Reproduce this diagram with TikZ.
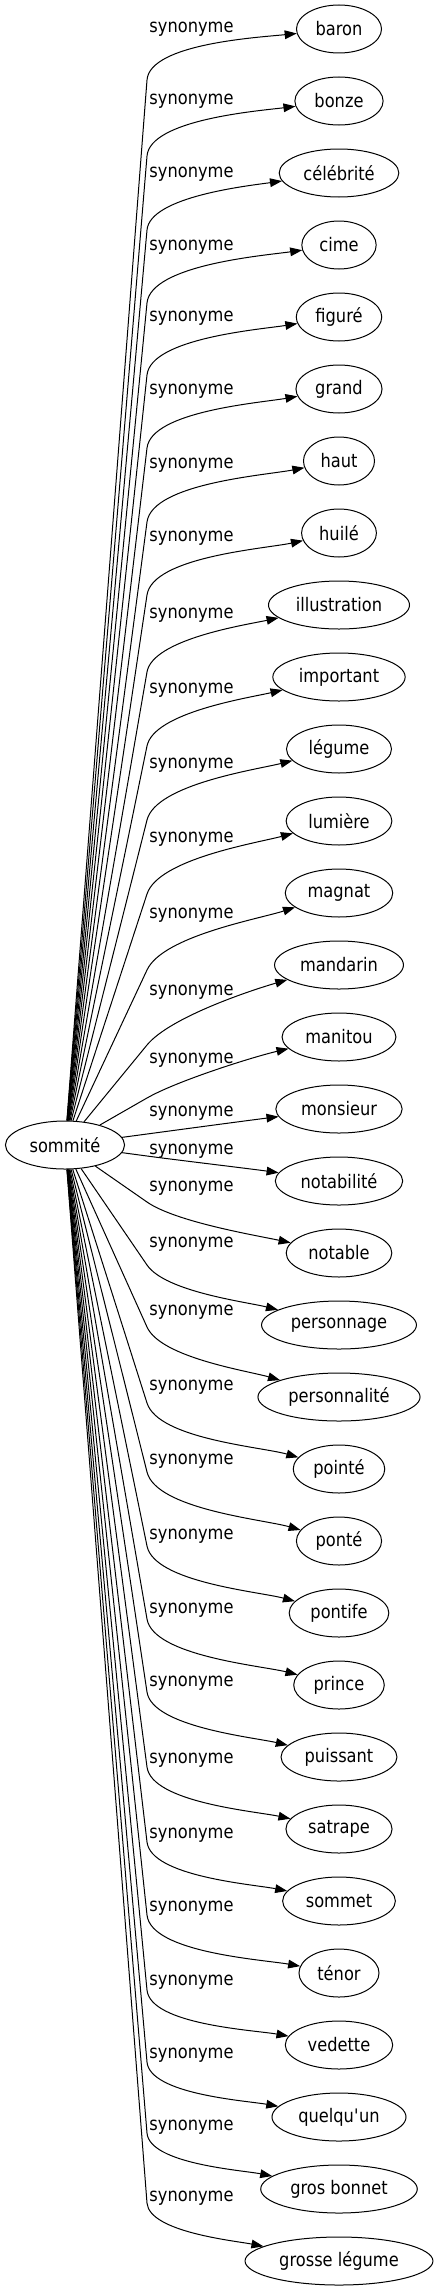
\documentclass[tikz,border=0pt]{standalone}
\usepackage{fontspec}
\setmainfont{DejaVu Sans}[FakeStretch=0.87]
\usetikzlibrary{arrows.meta,shapes.geometric}

\begin{document}
\begin{tikzpicture}[>={Triangle[length=9pt,width=6.5pt]}, line width=0.75pt, x=0.75pt, y=0.75pt,
		font=\fontsize{14}{17}\selectfont,
		mot/.style={draw, ellipse, inner xsep=5pt, inner ysep=2pt, minimum height=36pt}]
	
	\useasboundingbox (0,0) rectangle (435,-2291);
	
	\def\xs{65}
	\def\ys{1145}
	\def\xm{339}
	\def\xl{191.5}
	\def\xq{147}
	
	\node[mot] (sommite) at (\xs,-\ys) {sommité};
	
	% nom / y etiquette / y du coude / angle d'arrivee
	\foreach \i/\nom/\ly/\qy/\arr in {
		0/baron/29/80/186, 1/bonze/101/156/187, 2/célébrité/174/230/188,
		3/cime/247/303/188, 4/figuré/318/375/189, 5/grand/391/448/190,
		6/haut/465/522/191, 7/huilé/538/595/192, 8/illustration/615/672/192,
		9/important/690/746/193, 10/légume/765/820/194, 11/lumière/839/894/195,
		12/magnat/915/970/198, 13/mandarin/992/1045/196, 14/manitou/1060/1098/193,
		15/monsieur/1113/1134/187.5, 16/notabilité/1151/1156/172.5, 17/notable/1188/1202/168,
		18/personnage/1244/1265/166, 19/personnalité/1312/1327/164, 20/pointé/1387/1403/164,
		21/ponté/1461/1472/164, 22/pontife/1536/1546/165, 23/prince/1610/1619/166,
		24/puissant/1683/1692/167, 25/satrape/1760/1767/168, 26/sommet/1835/1842/169,
		27/ténor/1908/1915/170, 28/vedette/1982/1990/170, 29/quelqu\textquotesingle un/2055/2062/170,
		30/gros bonnet/2127/2133/169, 31/grosse légume/2198/2203/169}{
		\pgfmathsetmacro{\ny}{-29-72*\i}
		\pgfmathsetmacro{\dep}{atan2(\ys-\qy,\xq-\xs)}
		\node[mot] (n\i) at (\xm,\ny) {\nom};
		\node (l\i) at (\xl,-\ly) {synonyme};
		\coordinate (q\i) at (\xq,-\qy);
		\draw[->] (sommite) -- (q\i) to[out=\dep, in=\arr, looseness=0.6] (n\i);
	}
	
\end{tikzpicture}
\end{document}
